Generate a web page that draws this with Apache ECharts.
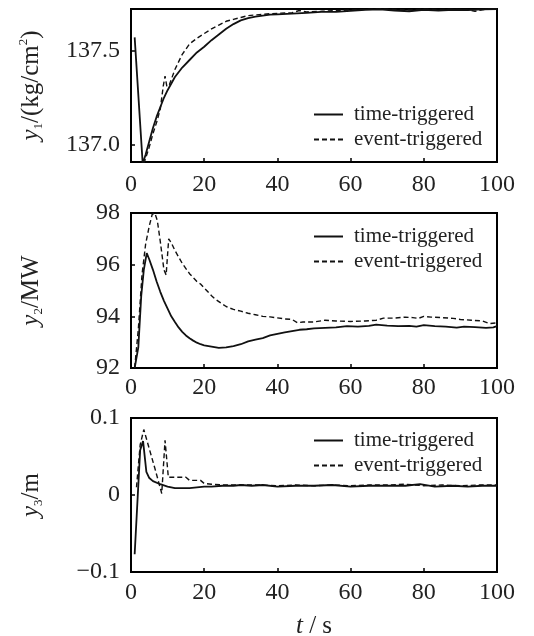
<!DOCTYPE html>
<html>
<head>
<meta charset="utf-8">
<script src="https://cdn.jsdelivr.net/npm/echarts@6/dist/echarts.min.js"></script>
<style>
  html, body { margin: 0; padding: 0; background: #fff; }
  #chart { width: 534px; height: 636px; }
</style>
</head>
<body>
<div id="chart"></div>
<script>
// panel 1: y1 pressure
const t1Time = [1, 3.2, 4, 5, 6, 7, 8, 9, 10, 12, 14, 16, 18, 20, 22, 24, 26, 28, 30, 32, 34, 36, 38, 40, 44, 48, 52, 56, 60, 64, 68, 72, 76, 80, 84, 88, 92, 96, 100]
const y1Time = [137.57, 136.90, 136.95, 137.02, 137.09, 137.15, 137.2, 137.25, 137.29, 137.36, 137.41, 137.45, 137.49, 137.52, 137.555, 137.585, 137.615, 137.64, 137.66, 137.672, 137.68, 137.685, 137.69, 137.692, 137.695, 137.70, 137.705, 137.705, 137.71, 137.715, 137.718, 137.712, 137.708, 137.715, 137.712, 137.716, 137.714, 137.718, 137.72]
const t1Event = [3.5, 4, 5, 6, 7, 8, 8.8, 9.3, 9.8, 10.5, 12, 14, 16, 18, 20, 22, 24, 26, 28, 30, 32, 35, 38, 41, 44, 46, 48, 52, 56, 60, 64, 68, 72, 76, 80, 84, 88, 92, 94, 96, 98, 100]
const y1Event = [136.90, 136.93, 136.99, 137.06, 137.12, 137.19, 137.31, 137.365, 137.31, 137.32, 137.40, 137.48, 137.535, 137.565, 137.59, 137.615, 137.635, 137.655, 137.665, 137.675, 137.685, 137.69, 137.695, 137.698, 137.70, 137.712, 137.705, 137.708, 137.712, 137.715, 137.718, 137.722, 137.718, 137.715, 137.72, 137.718, 137.72, 137.715, 137.708, 137.716, 137.72, 137.72]

// panel 2: y2 power
const t2Time = [1, 2, 2.8, 3.5, 4.3, 5, 6, 7, 8, 9, 10, 11, 12, 13, 14, 15, 16, 17, 18, 19, 20, 22, 24, 26, 28, 30, 32, 34, 36, 38, 40, 42, 44, 46, 48, 50, 53, 56, 59, 62, 65, 67, 70, 73, 76, 78, 80, 83, 86, 89, 91, 94, 97, 99, 100]
const y2Time = [92.0, 92.8, 94.8, 95.8, 96.45, 96.2, 95.8, 95.35, 94.95, 94.6, 94.3, 94.0, 93.78, 93.57, 93.4, 93.26, 93.15, 93.06, 92.98, 92.92, 92.88, 92.83, 92.78, 92.8, 92.85, 92.92, 93.03, 93.1, 93.16, 93.26, 93.32, 93.38, 93.43, 93.48, 93.5, 93.53, 93.55, 93.57, 93.62, 93.6, 93.63, 93.68, 93.64, 93.62, 93.63, 93.6, 93.66, 93.62, 93.6, 93.56, 93.6, 93.58, 93.55, 93.57, 93.62]
const t2Event = [1, 2, 3, 4, 5, 5.8, 6.5, 7.2, 8, 9, 9.6, 10.3, 11, 12, 13, 14, 15, 16, 17, 18, 19, 20, 21, 22, 23, 24, 25, 26, 27, 28, 30, 32, 34, 36, 38, 40, 42, 44, 45.5, 47, 50, 53, 56, 60, 64, 67, 69, 72, 75, 77, 78.5, 80, 82, 85, 88, 90, 93, 96, 98, 100]
const y2Event = [92.0, 93.5, 95.6, 96.8, 97.5, 97.95, 98.0, 97.7, 96.9, 95.8, 95.6, 97.0, 96.85, 96.55, 96.3, 96.05, 95.85, 95.65, 95.5, 95.35, 95.25, 95.1, 94.95, 94.8, 94.67, 94.57, 94.47, 94.38, 94.32, 94.27, 94.2, 94.12, 94.06, 94.0, 93.98, 93.94, 93.9, 93.88, 93.75, 93.78, 93.78, 93.85, 93.82, 93.8, 93.82, 93.85, 93.93, 93.93, 93.97, 93.95, 93.92, 94.0, 93.97, 93.95, 93.92, 93.88, 93.85, 93.82, 93.72, 93.75]

// panel 3: y3 level
const t3Time = [1, 2.5, 3.3, 4.2, 5, 6, 8, 10, 12, 14, 16, 18, 20, 22, 25, 28, 30, 33, 36, 40, 45, 50, 55, 60, 65, 70, 75, 79, 83, 88, 92, 96, 100]
const y3Time = [-0.077, 0.058, 0.070, 0.030, 0.022, 0.018, 0.014, 0.011, 0.009, 0.009, 0.009, 0.010, 0.011, 0.011, 0.012, 0.012, 0.013, 0.012, 0.013, 0.011, 0.012, 0.012, 0.013, 0.011, 0.012, 0.012, 0.012, 0.014, 0.011, 0.012, 0.011, 0.012, 0.012]
const t3Event = [1.5, 2.5, 3.5, 5, 6.5, 8.4, 9.3, 10.2, 12, 15, 16, 19, 20, 22, 25, 30, 35, 40, 45, 50, 55, 60, 65, 70, 75, 80, 85, 90, 95, 100]
const y3Event = [0.01, 0.065, 0.085, 0.06, 0.035, 0.002, 0.071, 0.023, 0.023, 0.023, 0.019, 0.019, 0.015, 0.014, 0.013, 0.013, 0.013, 0.012, 0.013, 0.012, 0.013, 0.012, 0.013, 0.013, 0.014, 0.012, 0.013, 0.012, 0.013, 0.013]

const legendNames = ['time-triggered', 'event-triggered']

const FONT = '"Liberation Serif", "DejaVu Serif", serif'
const chart = echarts.init(document.getElementById('chart'))

function zip(ts, ys) {
  return ts.map((t, i) => [t, ys[i]])
}

// fixed panel boxes, no auto shrinking to fit labels
const grids = [
  { left: 131, width: 366, top: 9, height: 153 },
  { left: 131, width: 366, top: 213, height: 155 },
  { left: 131, width: 366, top: 418, height: 154 }
].map(g => Object.assign(g, {
  show: true, borderColor: '#000', borderWidth: 2, backgroundColor: 'transparent',
  containLabel: false, outerBoundsMode: 'none'
}))

const nameRich = {
  i: { fontFamily: FONT, fontStyle: 'italic', fontSize: 25, color: '#222' },
  s: { fontFamily: FONT, fontSize: 13, color: '#222', verticalAlign: 'bottom', padding: [15, 0, 0, 0] },
  p: { fontFamily: FONT, fontSize: 13, color: '#222', verticalAlign: 'top', padding: [0, 0, 13, 0] },
  n: { fontFamily: FONT, fontSize: 25, color: '#222' }
}

const labelBase = { fontFamily: FONT, fontSize: 24, color: '#222', margin: 11 }
const tickBase = { inside: true, length: 4, lineStyle: { color: '#000', width: 1.5 } }
const xMargins = [11, 8, 9]

const xAxes = [0, 1, 2].map(i => ({
  type: 'value',
  gridIndex: i,
  min: 0,
  max: 100,
  interval: 20,
  axisLine: { show: false, onZero: false },
  axisTick: tickBase,
  splitLine: { show: false },
  axisLabel: Object.assign({}, labelBase, { margin: xMargins[i] }),
  name: i === 2 ? '{i|t}{n| / s}' : '',
  nameLocation: 'middle',
  nameGap: 42,
  nameTextStyle: { rich: nameRich }
}))

const yAxes = [
  {
    type: 'value', gridIndex: 0, min: 136.91, max: 137.72,
    axisLine: { show: false, onZero: false }, splitLine: { show: false },
    axisTick: Object.assign({ customValues: [137.0, 137.5] }, tickBase),
    axisLabel: Object.assign({ customValues: [137.0, 137.5], formatter: v => v.toFixed(1) }, labelBase),
    name: '{i|y}{s|1}{n|/(kg/cm}{p|2}{n|)}'
  },
  {
    type: 'value', gridIndex: 1, min: 92, max: 98, interval: 2,
    axisLine: { show: false, onZero: false }, splitLine: { show: false },
    axisTick: tickBase,
    axisLabel: labelBase,
    name: '{i|y}{s|2}{n|/MW}'
  },
  {
    type: 'value', gridIndex: 2, min: -0.1, max: 0.1, interval: 0.1,
    axisLine: { show: false, onZero: false }, splitLine: { show: false },
    axisTick: tickBase,
    axisLabel: Object.assign({
      formatter: v => {
        const r = Math.round(v * 10) / 10
        if (r === 0) return '0'
        return r < 0 ? '\u2212' + Math.abs(r).toFixed(1) : r.toFixed(1)
      }
    }, labelBase),
    name: '{i|y}{s|3}{n|/m}'
  }
].map(a => Object.assign(a, {
  nameLocation: 'middle', nameRotate: 90, nameGap: 86,
  nameTextStyle: { rich: nameRich }
}))

function lineSeries(name, idx, data, dashed) {
  return {
    name: name,
    type: 'line',
    xAxisIndex: idx,
    yAxisIndex: idx,
    data: data,
    symbol: 'none',
    smooth: false,
    animation: false,
    itemStyle: { color: '#111' },
    lineStyle: dashed
      ? { color: '#111', width: 1.4, type: [5, 3] }
      : { color: '#111', width: 1.8, type: 'solid' }
  }
}

const series = [
  lineSeries('time-triggered', 0, zip(t1Time, y1Time), false),
  lineSeries('event-triggered', 0, zip(t1Event, y1Event), true),
  lineSeries('time-triggered', 1, zip(t2Time, y2Time), false),
  lineSeries('event-triggered', 1, zip(t2Event, y2Event), true),
  lineSeries('time-triggered', 2, zip(t3Time, y3Time), false),
  lineSeries('event-triggered', 2, zip(t3Event, y3Event), true)
]

const legends = [104, 226, 430].map(top => ({
  data: legendNames,
  orient: 'vertical',
  left: 313,
  top: top,
  padding: 0,
  itemWidth: 29,
  itemHeight: 14,
  itemGap: 4,
  selectedMode: false,
  itemStyle: { color: 'transparent', borderColor: 'transparent', borderWidth: 0 },
  textStyle: { fontFamily: FONT, fontSize: 21, color: '#222', padding: [0, 0, 0, 6] }
}))

chart.setOption({
  animation: false,
  backgroundColor: '#fff',
  grid: grids,
  xAxis: xAxes,
  yAxis: yAxes,
  legend: legends,
  series: series
})
</script>
</body>
</html>
